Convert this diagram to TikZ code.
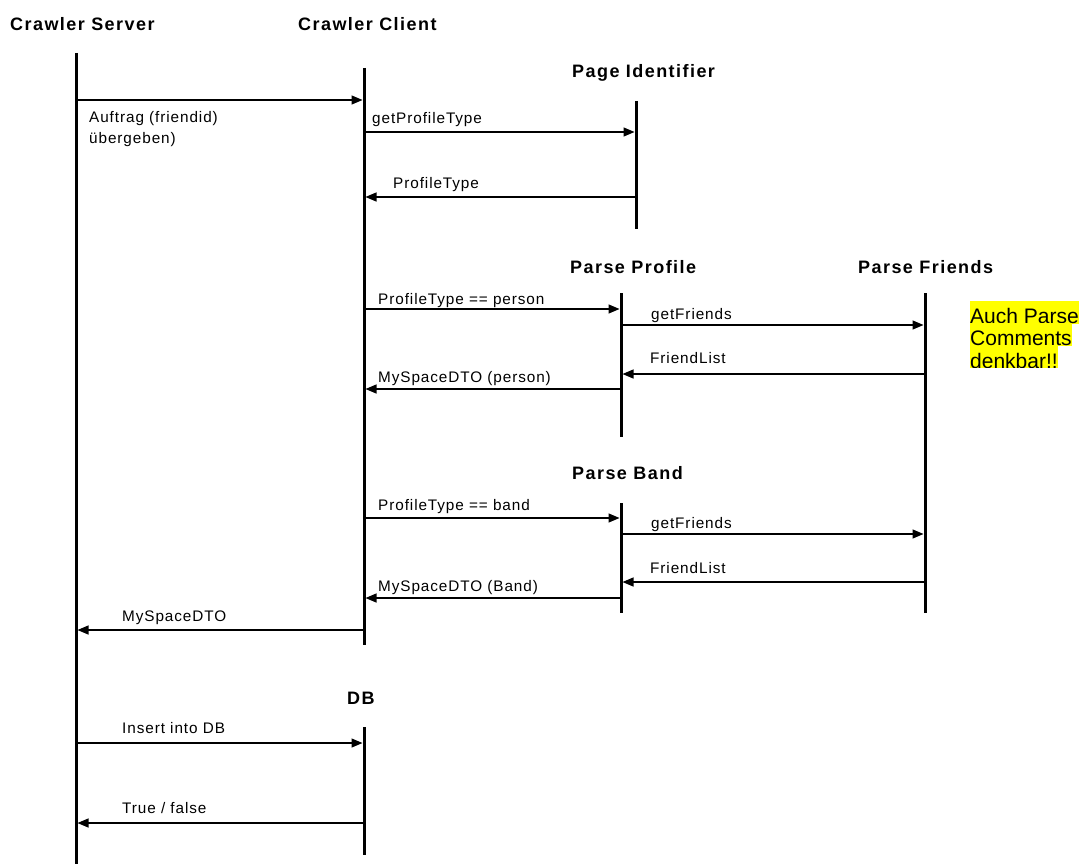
\documentclass[tikz,border=0pt]{standalone}
\usepackage{fontspec}
\setmainfont{Liberation Sans}
\newfontfamily\lblfont[LetterSpace=6]{Liberation Sans}
\newfontfamily\ttlfont[LetterSpace=8]{Liberation Sans Bold}
\newfontfamily\notefont{Liberation Sans}
\usetikzlibrary{arrows.meta}
\definecolor{noteyellow}{RGB}{255,255,0}
\tikzset{
  lifeline/.style={line width=3pt, line cap=butt},
  msg/.style={line width=1.3pt, -{Triangle[length=11pt,width=9pt]}, shorten >=1.5pt},
  lbl/.style={anchor=base west, inner sep=0pt, font=\lblfont\fontsize{15.3}{20}\selectfont},
  ttl/.style={anchor=base west, inner sep=0pt, font=\ttlfont\fontsize{18}{22}\selectfont},
  noteline/.style={anchor=base west, inner sep=0pt, fill=noteyellow, text height=22pt, text depth=0.5pt, font=\notefont\fontsize{21}{22}\selectfont}
}
\begin{document}
\begin{tikzpicture}[x=1pt,y=-1pt]
\useasboundingbox (0,0) rectangle (1083,864);
% titles
\node[ttl] (tSrv) at (10,31) {Crawler Server};
\node[ttl] (tCli) at (298,31) {Crawler Client};
\node[ttl] (tPid) at (572,78) {Page Identifier};
\node[ttl] (tPP) at (570,273) {Parse Profile};
\node[ttl] (tPF) at (858,273) {Parse Friends};
\node[ttl] (tPB) at (572,479) {Parse Band};
\node[ttl] (tDB) at (347,704) {DB};
% lifelines
\coordinate (srvT) at (76,53);   \coordinate (srvB) at (76,864);
\coordinate (cliT) at (364,68);  \coordinate (cliB) at (364,645);
\coordinate (pidT) at (636,101); \coordinate (pidB) at (636,229);
\coordinate (ppT) at (621,293);  \coordinate (ppB) at (621,437);
\coordinate (pfT) at (925,293);  \coordinate (pfB) at (925,613);
\coordinate (pbT) at (621,503);  \coordinate (pbB) at (621,613);
\coordinate (dbT) at (364,727);  \coordinate (dbB) at (364,855);
\foreach \l in {srv,cli,pid,pp,pf,pb,db}{\draw[lifeline] (\l T) -- (\l B);}
% messages
\draw[msg] (srvT |- 0,100) -- (cliT |- 0,100);
\node[lbl] (m1a) at (89,122) {Auftrag (friendid)};
\node[lbl] (m1b) at (89,143) {übergeben)};
\draw[msg] (cliT |- 0,132) -- (pidT |- 0,132);
\node[lbl] (m2) at (372,124) {getProfileType};
\draw[msg] (pidT |- 0,197) -- (cliT |- 0,197);
\node[lbl] (m3) at (393,188) {ProfileType};
\draw[msg] (cliT |- 0,309) -- (ppT |- 0,309);
\node[lbl] (m4) at (378,304) {ProfileType == person};
\draw[msg] (ppT |- 0,325) -- (pfT |- 0,325);
\node[lbl] (m5) at (651,319) {getFriends};
\draw[msg] (pfT |- 0,374) -- (ppT |- 0,374);
\node[lbl] (m6) at (650,363) {FriendList};
\draw[msg] (ppT |- 0,389) -- (cliT |- 0,389);
\node[lbl] (m7) at (378,382) {MySpaceDTO (person)};
\draw[msg] (cliT |- 0,518) -- (pbT |- 0,518);
\node[lbl] (m8) at (378,510) {ProfileType == band};
\draw[msg] (pbT |- 0,534) -- (pfT |- 0,534);
\node[lbl] (m9) at (651,528) {getFriends};
\draw[msg] (pfT |- 0,582) -- (pbT |- 0,582);
\node[lbl] (m10) at (650,573) {FriendList};
\draw[msg] (pbT |- 0,598) -- (cliT |- 0,598);
\node[lbl] (m11) at (378,591) {MySpaceDTO (Band)};
\draw[msg] (cliT |- 0,630) -- (srvT |- 0,630);
\node[lbl] (m12) at (122,621) {MySpaceDTO};
\draw[msg] (srvT |- 0,743) -- (dbT |- 0,743);
\node[lbl] (m13) at (122,733) {Insert into DB};
\draw[msg] (dbT |- 0,823) -- (srvT |- 0,823);
\node[lbl] (m14) at (122,813) {True / false};
% note
\begin{scope}
\clip (960,290) rectangle (1083,367);
\node[noteline] (n1) at (970,323) {Auch Parse};
\node[noteline] (n2) at (970,345) {Comments};
\node[noteline] (n3) at (970,368) {denkbar!!};
\end{scope}
\end{tikzpicture}
\end{document}
